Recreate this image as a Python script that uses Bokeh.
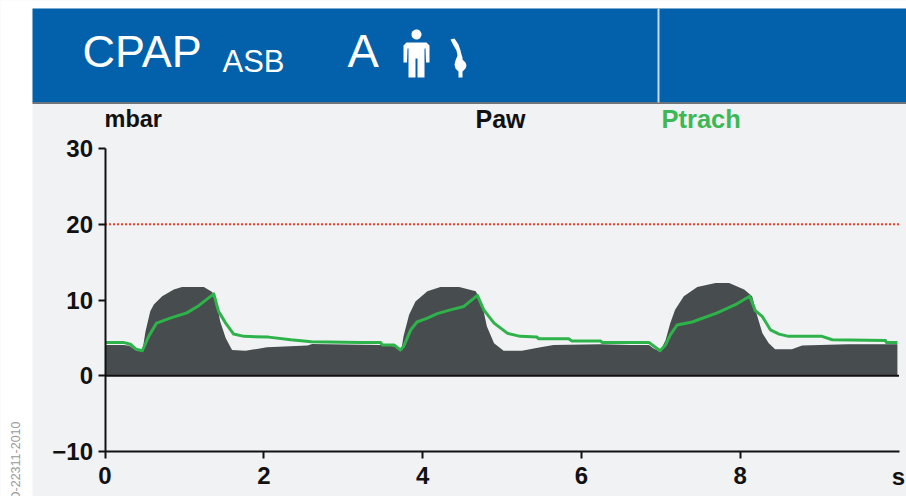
import numpy as np
from bokeh.plotting import figure
from bokeh.models import BoxAnnotation, PolyAnnotation, Label, FixedTicker, Range1d, LinearAxis
from bokeh.embed import file_html
from bokeh.resources import INLINE

# values
t_paw = [0, .23, .31, .38, .47, .51, .57, .615, .72, .867, .97, 1.245, 1.35, 1.41, 1.45, 1.52, 1.6, 1.77, 2.04, 2.55, 2.61, 3.22,
         3.47, 3.66, 3.73, 3.76, 3.83, 3.91, 4.06, 4.225, 4.46, 4.67, 4.75, 4.81, 4.9, 5.02, 5.25, 5.485, 5.65, 6.24, 6.62,
         6.85, 6.91, 6.99, 7.06, 7.12, 7.18, 7.29, 7.46, 7.69, 7.86, 8.05, 8.15, 8.21, 8.28, 8.36, 8.44, 8.65, 8.78, 9.35, 9.98]
paw = [4.07, 4.07, 3.97, 3.4, 3.2, 5.84, 8.5, 9.4, 10.5, 11.4, 11.7, 11.7, 11.06, 9.4, 7.2, 5.0, 3.4, 3.3, 3.76, 4.0, 4.2, 4.1,
       4.07, 3.85, 3.3, 5.2, 8.05, 9.8, 11.15, 11.7, 11.7, 11.15, 9.4, 6.5, 4.3, 3.3, 3.3, 3.76, 4.07, 4.16, 4.07,
       4.07, 3.6, 3.2, 4.7, 6.95, 8.7, 10.5, 11.7, 12.25, 12.25, 11.4, 10.5, 8.05, 5.6, 4.3, 3.5, 3.5, 4.0, 4.16, 4.16]

t_ptrach = [0, .23, .32, .39, .47, .55, .65, .82, 1.03, 1.18, 1.37, 1.43, 1.52, 1.62, 1.75, 2.06, 2.34, 2.6, 3.22,
            3.47, 3.49, 3.64, 3.72, 3.76, 3.85, 3.93, 4.06, 4.185, 4.35, 4.52, 4.69, 4.77, 4.9, 5.07, 5.23, 5.44, 5.46, 5.84, 5.88, 6.24, 6.26, 6.85,
            6.99, 7.06, 7.12, 7.205, 7.395, 7.71, 7.96, 8.12, 8.19, 8.28, 8.38, 8.49, 8.61, 9.03, 9.16, 9.83, 9.84, 9.98]
ptrach = [4.4, 4.4, 4.16, 3.5, 3.3, 5.2, 6.95, 7.6, 8.3, 9.25, 10.8, 8.5, 6.95, 5.5, 5.2, 5.1, 4.75, 4.5, 4.4,
          4.4, 4.07, 4.07, 3.4, 3.85, 6.06, 7.1, 7.6, 8.2, 8.7, 9.15, 10.6, 8.7, 6.95, 5.6, 5.2, 5.1, 4.87, 4.87, 4.6, 4.6, 4.4, 4.4,
          3.3, 4.07, 5.4, 6.7, 7.1, 8.3, 9.5, 10.5, 8.6, 7.8, 6.06, 5.5, 5.2, 5.2, 4.75, 4.65, 4.4, 4.4]

y_ticks = [-10, 0, 10, 20, 30]
x_ticks = [0, 2, 4, 6, 8]
x_span = [0, 10]
baseline_level = [0, 0]
alarm_limit = [20, 20]

W, H = 906, 496
X0, PXS = 104.5, 79.4
Y30, YM10 = 148.0, 451.0
PXU = (YM10 - Y30) / 40

BLUE, PANEL, DARK, GREEN = "#0361AB", "#F1F2F4", "#474C4E", "#2DB34A"
INK = "#111111"

p = figure(width=W, height=H, output_backend="svg", toolbar_location=None,
           x_range=Range1d(-X0 / PXS, (W - X0) / PXS),
           y_range=Range1d(-10 - (H - YM10) / PXU, 30 + Y30 / PXU),
           x_axis_location=None, y_axis_location=None,
           min_border_left=0, min_border_right=0, min_border_top=0, min_border_bottom=0,
           background_fill_color=PANEL, border_fill_color="#FFFFFF", outline_line_color=None)
p.grid.visible = False

xax = LinearAxis(fixed_location=-10, bounds=(0, 10), ticker=FixedTicker(ticks=x_ticks))
yax = LinearAxis(fixed_location=0, bounds=(-10, 30), ticker=FixedTicker(ticks=y_ticks))
for ax in (xax, yax):
    ax.axis_line_color = INK
    ax.axis_line_width = 2
    ax.major_tick_line_color = INK
    ax.major_tick_line_width = 2
    ax.major_tick_in = 0
    ax.major_tick_out = 7
    ax.minor_tick_line_color = None
    ax.major_label_text_font = "Liberation Sans"
    ax.major_label_text_font_style = "bold"
    ax.major_label_text_font_size = "24px"
    ax.major_label_text_color = INK
xax.major_label_standoff = 8
yax.major_label_standoff = 5
p.add_layout(xax, "below")
p.add_layout(yax, "left")


def sbox(l, r, t, b, color, level="underlay"):
    p.add_layout(BoxAnnotation(left=l, right=r, top=H - t, bottom=H - b,
                               left_units="screen", right_units="screen", top_units="screen", bottom_units="screen",
                               fill_color=color, fill_alpha=1, line_color=None, level=level))


def spoly(xs, ys, color):
    p.add_layout(PolyAnnotation(xs=list(xs), ys=[H - y for y in ys], xs_units="screen", ys_units="screen",
                                fill_color=color, fill_alpha=1, line_color=None, level="annotation"))


def stext(x, y, text, size, color="white", style="normal", align="left", baseline="middle", angle=0):
    p.add_layout(Label(x=x, y=H - y, x_units="screen", y_units="screen", text=text, text_font="Liberation Sans",
                       text_font_size=f"{size}px", text_font_style=style, text_color=color, text_align=align,
                       text_baseline=baseline, angle=angle, level="annotation"))


sbox(0, W, 0, 8, "#FFFFFF")
sbox(0, 32, 0, H, "#FFFFFF")
sbox(32, W, 8, 102, BLUE)
sbox(32, W, 101.5, 103.5, "#6E7479")
sbox(657, 659, 8, 102, "#C9D8EC")

p.varea(x=t_paw, y1=[0] * len(t_paw), y2=paw, fill_color=DARK)
p.line(x_span, baseline_level, line_color=INK, line_width=2)
p.line(x_span, alarm_limit, line_color="#F0402A", line_width=2, line_dash="2 2")
p.line(t_ptrach, ptrach, line_color=GREEN, line_width=3, line_join="round")

stext(82, 51, "CPAP", 45)
stext(222, 61, "ASB", 31)
stext(347, 50, "A", 47)

th = np.linspace(0, 2 * np.pi, 24)
spoly(416 + 5 * np.cos(th), 34 + 5 * np.sin(th), "white")
spoly([406, 426, 429, 429, 425.5, 425, 424, 424, 417, 417, 415, 415, 408, 408, 407, 406.5, 403, 403],
      [42, 42, 45, 62, 62, 48, 48, 77, 77, 58, 58, 77, 77, 48, 48, 62, 62, 45], "white")
spoly([450, 454, 458, 460, 461, 462, 462, 465, 466, 465, 462, 462, 458, 458, 455, 454, 455, 457, 456, 453],
      [39, 38, 44, 50, 54, 57, 59, 62, 65, 68, 71, 77, 77, 71, 68, 64, 60, 55, 50, 45], "white")

stext(104, 118, "mbar", 23.5, INK, "bold")
stext(475, 118, "Paw", 25, INK, "bold")
stext(661, 118, "Ptrach", 25.5, "#3DB856", "bold")
stext(898, 476, "s", 24, INK, "bold", align="center")
stext(15, 421, "D-22311-2010", 12.5, "#9A9A9A", align="right", angle=np.pi / 2)

open("out.html", "w").write(file_html(p, INLINE))
